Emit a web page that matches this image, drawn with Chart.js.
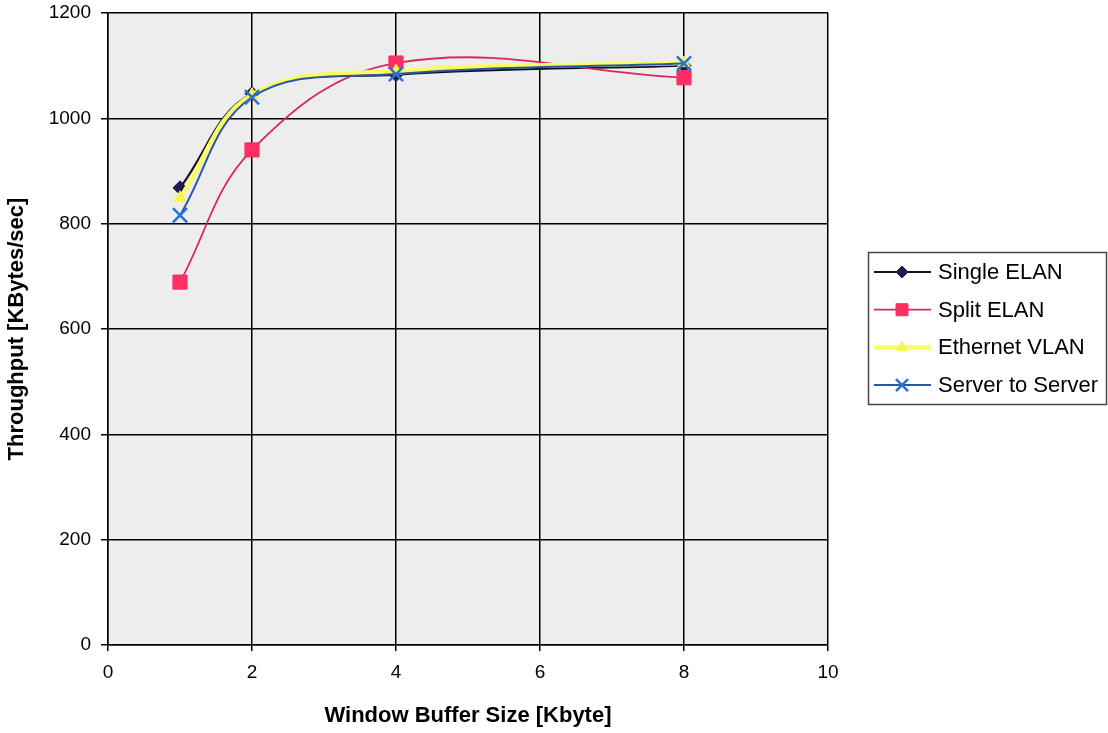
<!DOCTYPE html>
<html>
<head>
<meta charset="utf-8">
<script src="https://cdn.jsdelivr.net/npm/chart.js@4/dist/chart.umd.min.js"></script>
<style>
html,body{margin:0;padding:0;background:#fff;}
#wrap{width:1108px;height:733px;}
</style>
</head>
<body>
<div id="wrap"><canvas id="c" width="1108" height="733"></canvas></div>
<script>
const xValues = [1, 2, 4, 8];
const singleElan = [868, 1047, 1083, 1100];
const splitElan = [689, 940, 1105, 1077];
const ethernetVlan = [849, 1045, 1090, 1105];
const serverToServer = [816, 1040, 1084, 1104];
const seriesLabels = ['Single ELAN', 'Split ELAN', 'Ethernet VLAN', 'Server to Server'];
const xTicks = [0, 2, 4, 6, 8, 10];
const yTicks = [0, 200, 400, 600, 800, 1000, 1200];

const pts = arr => xValues.map((x, i) => ({x: x, y: arr[i]}));

const styles = [
  {line: '#111122', fill: '#1c1c50', ps: 'rectRot', r: 7, lw: 2.2, bw: 1},
  {line: '#d9275a', fill: '#ff2e63', ps: 'rect', r: 10, lw: 1.8, bw: 1},
  {line: '#fbfb66', fill: '#f4f44a', ps: 'triangle', r: 7, lw: 4.5, bw: 1},
  {line: '#2a55a8', fill: '#2a72d0', ps: 'crossRot', r: 10, lw: 2, bw: 2.5}
];
const seriesData = [singleElan, splitElan, ethernetVlan, serverToServer];

const datasets = seriesData.map((d, i) => ({
  label: seriesLabels[i],
  data: pts(d),
  borderColor: styles[i].line,
  backgroundColor: styles[i].fill,
  pointBorderColor: styles[i].fill,
  pointBackgroundColor: styles[i].fill,
  pointStyle: styles[i].ps,
  pointRadius: styles[i].r,
  pointBorderWidth: styles[i].bw,
  borderWidth: styles[i].lw,
  tension: 0.38,
  fill: false,
  order: 3 - i
}));

const FONT = '"Liberation Sans", Arial, sans-serif';

const plotBg = {
  id: 'plotBg',
  beforeDraw(chart) {
    const {ctx, chartArea: a} = chart;
    ctx.save();
    ctx.fillStyle = '#ededed';
    ctx.fillRect(a.left, a.top, a.right - a.left, a.bottom - a.top);
    ctx.restore();
  },
  afterDraw(chart) {
    const ctx = chart.ctx;
    const bx = 868, by = 252, bw = 238, bh = 152;
    ctx.save();
    ctx.fillStyle = '#ffffff';
    ctx.fillRect(bx, by, bw, bh);
    ctx.strokeStyle = '#444';
    ctx.lineWidth = 1.5;
    ctx.strokeRect(bx + 0.5, by + 0.5, bw, bh);
    ctx.font = '22px ' + FONT;
    ctx.textBaseline = 'middle';
    chart.data.datasets.forEach((ds, i) => {
      const y = 272 + i * 37.7;
      ctx.strokeStyle = ds.borderColor;
      ctx.lineWidth = ds.borderWidth;
      ctx.beginPath();
      ctx.moveTo(874, y);
      ctx.lineTo(931, y);
      ctx.stroke();
      ctx.fillStyle = ds.pointBackgroundColor;
      ctx.strokeStyle = ds.pointBorderColor;
      ctx.lineWidth = ds.pointBorderWidth;
      Chart.helpers.drawPoint(ctx, {
        pointStyle: ds.pointStyle,
        radius: ds.pointRadius * 0.85,
        rotation: 0,
        borderWidth: ds.pointBorderWidth
      }, 902, y);
      ctx.fillStyle = '#000';
      ctx.fillText(ds.label, 938, y + 1);
    });
    ctx.restore();
  }
};

new Chart(document.getElementById('c'), {
  type: 'line',
  data: {datasets: datasets},
  options: {
    responsive: false,
    animation: false,
    devicePixelRatio: 1,
    layout: {padding: {top: 13, right: 280, left: 0, bottom: 0}},
    plugins: {legend: {display: false}, tooltip: {enabled: false}},
    scales: {
      x: {
        type: 'linear',
        min: 0, max: 10,
        afterBuildTicks(scale) { scale.ticks = xTicks.map(v => ({value: v})); },
        afterFit(scale) { scale.height = 88; scale.paddingLeft = 0; scale.paddingRight = 0; },
        ticks: {color: '#000', font: {family: FONT, size: 19}, padding: 10,
          callback: v => String(v)},
        grid: {color: '#000', lineWidth: 1.5, tickLength: 6, drawTicks: true},
        border: {color: '#000', width: 1.5},
        title: {display: true, text: 'Window Buffer Size [Kbyte]', color: '#000',
          font: {family: FONT, size: 22, weight: 'bold'}, padding: {top: 14}}
      },
      y: {
        min: 0, max: 1200,
        afterBuildTicks(scale) { scale.ticks = yTicks.map(v => ({value: v})); },
        afterFit(scale) { scale.width = 108; scale.paddingTop = 0; scale.paddingBottom = 0; },
        ticks: {color: '#000', font: {family: FONT, size: 19}, padding: 10,
          callback: v => String(v)},
        grid: {color: '#000', lineWidth: 1.5, tickLength: 7, drawTicks: true},
        border: {color: '#000', width: 1.5},
        title: {display: true, text: 'Throughput [KBytes/sec]', color: '#000',
          font: {family: FONT, size: 22, weight: 'bold'}, padding: {bottom: 0}}
      }
    }
  },
  plugins: [plotBg]
});
</script>
</body>
</html>
